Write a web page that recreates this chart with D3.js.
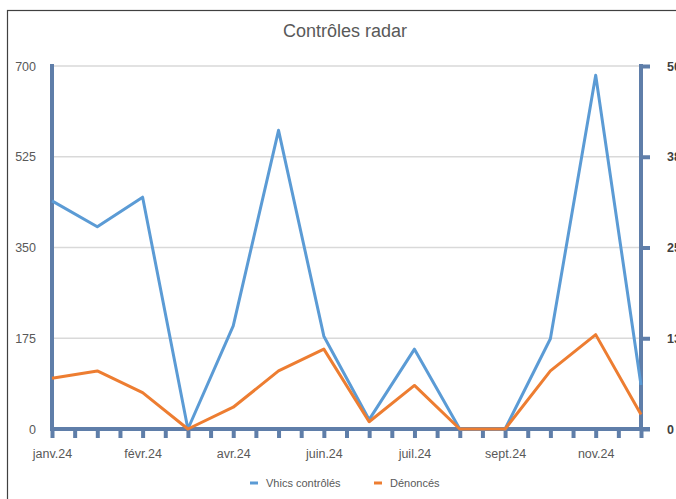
<!DOCTYPE html>
<html>
<head>
<meta charset="utf-8">
<script src="https://cdn.jsdelivr.net/npm/d3@7"></script>
<style>
	body { margin: 0; background: #fff; overflow: hidden; }
	svg { display: block; font-family: 'Liberation Sans', Arial, sans-serif; }
</style>
</head>
<body>
<div id="chart"></div>
<script>
// series values, one per category point
const vehicules = [440, 390, 447, 0, 199, 576, 179, 18, 154, 0, 0, 174, 682, 85];
const denonces = [7, 8, 5, 0, 3, 8, 11, 1, 6, 0, 0, 8, 13, 2];
// labels shown under every second point
const tickLabels = ['janv.24', 'févr.24', 'avr.24', 'juin.24', 'juil.24', 'sept.24', 'nov.24'];
const leftTicks = [0, 175, 350, 525, 700];
const rightTicks = [0, 12.5, 25, 37.5, 50];
const seriesNames = ['Vhics contrôlés', 'Dénoncés'];

const W = 676, H = 499;
const font = "'Liberation Sans', Arial, sans-serif";
const axisColor = '#5f7ea9';
const blue = '#5b9bd5', orange = '#ed7d31';

const svg = d3.select('#chart').append('svg').attr('width', W).attr('height', H);

// outer frame
svg.append('rect')
	.attr('x', 7.5).attr('y', 10.5)
	.attr('width', 720).attr('height', 520)
	.attr('fill', 'none').attr('stroke', '#404040').attr('stroke-width', 1.2);

svg.append('text')
	.attr('x', 345).attr('y', 37)
	.attr('text-anchor', 'middle')
	.attr('font-size', 18)
	.attr('fill', '#595959')
	.text('Contrôles radar');

const x = d3.scaleLinear().domain([0, vehicules.length - 1]).range([52, 641]);
const yL = d3.scaleLinear().domain([0, 700]).range([429, 66]);
const yR = d3.scaleLinear().domain([0, 50]).range([429, 66]);

// gridlines
svg.append('g')
	.selectAll('line')
	.data(leftTicks.slice(1))
	.enter()
	.append('line')
	.attr('x1', x(0)).attr('x2', x(vehicules.length - 1))
	.attr('y1', (d) => yL(d)).attr('y2', (d) => yL(d))
	.attr('stroke', '#d9d9d9').attr('stroke-width', 1.5);

// left axis
const left = svg.append('g')
	.attr('transform', `translate(${x(0)},0)`)
	.call(d3.axisLeft(yL).tickValues(leftTicks).tickSize(0).tickPadding(16).tickFormat(d3.format('d')));
left.select('.domain').attr('stroke', axisColor).attr('stroke-width', 4).attr('d', `M0,${yL(700) - 2}V${yL(0)}`);
left.selectAll('text').attr('font-size', 12.5).attr('fill', '#595959').attr('font-family', font);

// right axis
const right = svg.append('g')
	.attr('transform', `translate(${x(vehicules.length - 1)},0)`)
	.call(d3.axisRight(yR).tickValues(rightTicks).tickSize(9).tickPadding(17).tickFormat(d3.format('.0f')));
right.select('.domain').attr('stroke', axisColor).attr('stroke-width', 4).attr('d', `M0,${yR(50) - 2}V${yR(0)}`);
right.selectAll('.tick line').attr('stroke', axisColor).attr('stroke-width', 4);
right.selectAll('text').attr('font-size', 12.5).attr('font-weight', 'bold').attr('fill', '#404040').attr('font-family', font);

// bottom axis, ticks every half category
const halfSteps = d3.range(0, vehicules.length - 0.99, 0.5);
const bottom = svg.append('g')
	.attr('transform', `translate(0,${yL(0)})`)
	.call(d3.axisBottom(x).tickValues(halfSteps).tickSize(9).tickPadding(11)
		.tickFormat((d) => (d % 2 === 0 && tickLabels[d / 2]) ? tickLabels[d / 2] : ''));
bottom.select('.domain').attr('stroke', axisColor).attr('stroke-width', 4).attr('d', `M${x(0) - 2},0H${x(vehicules.length - 1) + 9}`);
bottom.selectAll('.tick line').attr('stroke', axisColor).attr('stroke-width', 4);
bottom.selectAll('text').attr('font-size', 12.5).attr('fill', '#595959').attr('font-family', font);

// lines
const lineL = d3.line().x((d, i) => x(i)).y((d) => yL(d));
const lineR = d3.line().x((d, i) => x(i)).y((d) => yR(d));

svg.append('path')
	.datum(vehicules)
	.attr('d', lineL)
	.attr('fill', 'none').attr('stroke', blue).attr('stroke-width', 3).attr('stroke-linejoin', 'round');

svg.append('path')
	.datum(denonces)
	.attr('d', lineR)
	.attr('fill', 'none').attr('stroke', orange).attr('stroke-width', 3).attr('stroke-linejoin', 'round');

// legend
const legend = svg.append('g').attr('transform', 'translate(0,483)');
const legendX = [250, 374];
[blue, orange].forEach((c, i) => {
	legend.append('line')
		.attr('x1', legendX[i]).attr('x2', legendX[i] + 8)
		.attr('stroke', c).attr('stroke-width', 3);
	legend.append('text')
		.attr('x', legendX[i] + 16).attr('y', 4)
		.attr('font-size', 11).attr('fill', '#595959')
		.text(seriesNames[i]);
});
</script>
</body>
</html>
